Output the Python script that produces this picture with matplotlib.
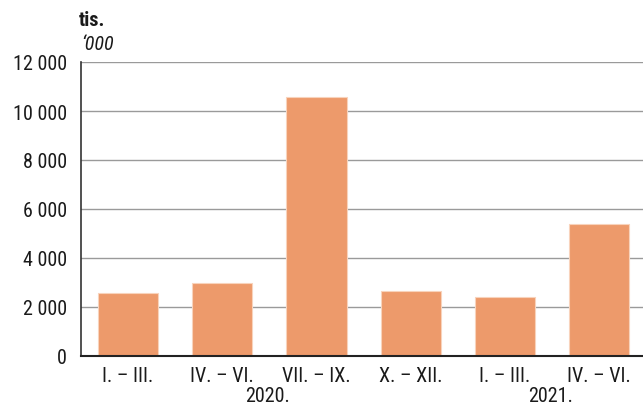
import matplotlib.pyplot as plt
from matplotlib import font_manager
from matplotlib.ticker import FuncFormatter

# look for a narrow sans; fall back to condensed DejaVu
names = {f.name for f in font_manager.fontManager.ttflist}
narrow = [n for n in ['Liberation Sans Narrow', 'Roboto Condensed', 'DejaVu Sans'] if n in names]
plt.rcParams['font.family'] = narrow
plt.rcParams['font.stretch'] = 'condensed'

quarters = ["I. – III.", "IV. – VI.", "VII. – IX.", "X. – XII.", "I. – III.", "IV. – VI."]
values = [2580, 3000, 10560, 2650, 2390, 5400]
years = ["2020.", "2021."]
year_pos = [1.48, 4.48]

fs = 14.5

fig = plt.figure(figsize=(6.43, 4.06), dpi=100)
ax = fig.add_axes([81 / 643, 1 - 357 / 406, 1 - 81 / 643 + 0.005, (357 - 63) / 406])

x = range(len(values))
ax.bar(x, values, width=0.64, color='#ED9A6B', edgecolor='#F8D3BC', linewidth=0.8, zorder=3)

ax.set_xlim(-0.5, 5.5)
ax.set_ylim(0, 12000)
ax.set_yticks(range(0, 12001, 2000))
ax.yaxis.set_major_formatter(FuncFormatter(lambda v, p: f"{int(v):,}".replace(",", " ")))
ax.grid(axis='y', color='#9a9a9a', linewidth=1.0, zorder=0)
ax.set_xticks(list(x))
ax.set_xticklabels(quarters)
ax.tick_params(axis='both', length=0, labelsize=fs, colors='#1a1a1a')
ax.tick_params(axis='x', pad=7)
ax.tick_params(axis='y', pad=10)

for s in ['top', 'right']:
    ax.spines[s].set_visible(False)
ax.spines['left'].set_color('#333333')
ax.spines['bottom'].set_color('#222222')
ax.spines['left'].set_linewidth(1.2)
ax.spines['bottom'].set_linewidth(1.5)
ax.spines['bottom'].set_zorder(4)

for yr, p in zip(years, year_pos):
    ax.text(p, -0.135, yr, transform=ax.get_xaxis_transform(), ha='center', va='center',
            fontsize=fs, color='#1a1a1a')

fig.text(79 / 643, 1 - 20 / 406, "tis.", fontsize=fs, fontweight='bold', ha='left', va='center', color='#1a1a1a')
fig.text(81 / 643, 1 - 44 / 406, "‘000", fontsize=fs, style='italic', ha='left', va='center', color='#1a1a1a')

fig.savefig("out.png", dpi=100)
